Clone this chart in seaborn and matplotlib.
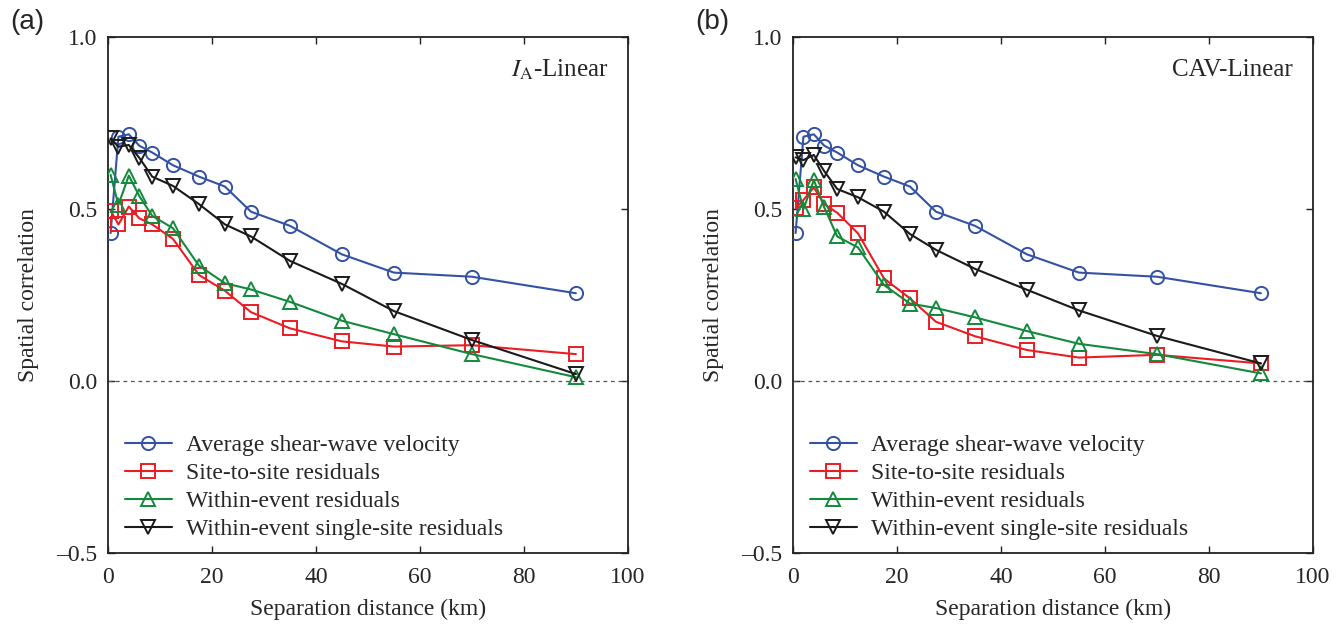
import numpy as np
import pandas as pd
import matplotlib
matplotlib.use("Agg")
import matplotlib.pyplot as plt
import seaborn as sns

# ---------------- data ----------------
distance = [0.5, 2, 4, 6, 8.5, 12.5, 17.5, 22.5, 27.5, 35, 45, 55, 70, 90]

vs30_a = [0.43, 0.71, 0.717, 0.684, 0.664, 0.627, 0.594, 0.565, 0.492, 0.451, 0.368, 0.315, 0.303, 0.255]
site_a = [0.495, 0.455, 0.507, 0.473, 0.455, 0.413, 0.308, 0.262, 0.200, 0.153, 0.115, 0.100, 0.104, 0.078]
within_a = [0.599, 0.512, 0.597, 0.538, 0.480, 0.444, 0.335, 0.284, 0.266, 0.230, 0.175, 0.136, 0.078, 0.011]
single_a = [0.705, 0.681, 0.686, 0.649, 0.594, 0.567, 0.514, 0.455, 0.420, 0.349, 0.282, 0.203, 0.119, 0.020]

vs30_b = [0.43, 0.71, 0.717, 0.684, 0.664, 0.627, 0.594, 0.565, 0.492, 0.451, 0.368, 0.315, 0.303, 0.255]
site_b = [0.502, 0.526, 0.563, 0.514, 0.489, 0.429, 0.298, 0.240, 0.172, 0.130, 0.090, 0.068, 0.076, 0.051]
within_b = [0.587, 0.499, 0.584, 0.505, 0.420, 0.388, 0.279, 0.225, 0.212, 0.185, 0.145, 0.108, 0.078, 0.022]
single_b = [0.650, 0.642, 0.657, 0.610, 0.558, 0.534, 0.492, 0.427, 0.381, 0.326, 0.265, 0.205, 0.131, 0.051]

series_names = ["Average shear-wave velocity", "Site-to-site residuals",
                "Within-event residuals", "Within-event single-site residuals"]
panel_titles = [r"$\mathit{I}_{\mathrm{A}}$-Linear", "CAV-Linear"]
panel_tags = ["(a)", "(b)"]
xticks = [0, 20, 40, 60, 80, 100]
yticks = [-0.5, 0.0, 0.5, 1.0]
ytick_labels = ["\u20130.5", "0.0", "0.5", "1.0"]

colors = ["#3452a4", "#ec1c24", "#128a3c", "#1a1a1a"]
markers = ["o", "s", "^", "v"]

panels = [[vs30_a, site_a, within_a, single_a], [vs30_b, site_b, within_b, single_b]]

# ---------------- style ----------------
sns.set_theme(style="ticks")
plt.rcParams["font.family"] = ["Liberation Serif", "DejaVu Serif"]
plt.rcParams["mathtext.fontset"] = "stix"
plt.rcParams["xtick.direction"] = "in"
plt.rcParams["ytick.direction"] = "in"

FS = 17
fig = plt.figure(figsize=(13.4, 6.24), dpi=100)
ax_pos = [[0.0806, 0.1138, 0.388, 0.827], [0.5918, 0.1138, 0.388, 0.827]]

for p in range(2):
    ax = fig.add_axes(ax_pos[p])
    ax.axhline(0, color="#555555", lw=0.9, ls=(0, (3, 3)), zorder=1)
    for s in range(4):
        df = pd.DataFrame({"d": distance, "r": panels[p][s]})
        sns.lineplot(data=df, x="d", y="r", ax=ax, color=colors[s], marker=markers[s],
                     markersize=9.5, mfc="none", mec=colors[s], mew=1.4, lw=1.5,
                     label=series_names[s], zorder=3)
    ax.set_xlim(0, 100)
    ax.set_ylim(-0.5, 1.0)
    ax.set_xticks(xticks)
    ax.set_yticks(yticks)
    ax.set_yticklabels(ytick_labels)
    ax.tick_params(axis="x", which="major", pad=10)
    ax.tick_params(axis="y", which="major", pad=8)
    ax.tick_params(axis="both", which="major", labelsize=FS, length=5, width=1,
                   top=True, right=True, color="#222222")
    for sp in ax.spines.values():
        sp.set_linewidth(1.3)
        sp.set_color("#222222")
    ax.set_xlabel("Separation distance (km)", fontsize=FS, labelpad=8)
    ax.set_ylabel("Spatial correlation", fontsize=FS, labelpad=12)
    ax.text(0.962, 0.936, panel_titles[p], transform=ax.transAxes, ha="right", va="center",
            fontsize=18)
    leg = ax.legend(loc="upper left", bbox_to_anchor=(0.032, 0.23), frameon=False,
                    fontsize=FS, handlelength=2.0, handletextpad=0.6, labelspacing=0.28,
                    borderaxespad=0, borderpad=0)
    fig.text(ax_pos[p][0] - 0.073, 0.965, panel_tags[p], fontsize=20,
             family="Liberation Sans", ha="left", va="center")

fig.savefig("out.png", dpi=100)
